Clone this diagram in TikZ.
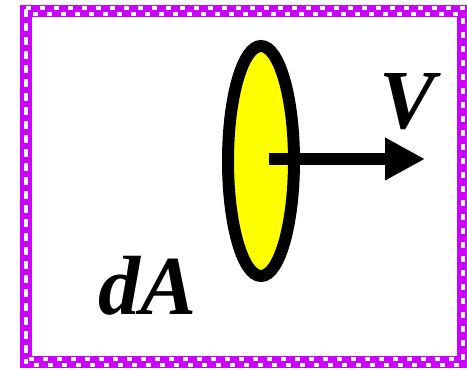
\documentclass[tikz,border=0pt]{standalone}
\usepackage{fontspec}
\setmainfont{Liberation Serif}
\usetikzlibrary{arrows.meta, shapes.geometric}
\definecolor{frmagenta}{RGB}{204,0,255}
\definecolor{diskyellow}{RGB}{255,255,0}

\begin{document}
\begin{tikzpicture}[x=1pt, y=-1pt,
  frame/.style={draw=frmagenta, line width=12pt},
  checks/.style={draw=white, line width=4pt, dash pattern=on 5pt off 9pt},
  disk/.style={ellipse, draw=black, fill=diskyellow, line width=12pt, minimum width=66pt, minimum height=230pt, inner sep=0pt},
  arr/.style={-{Triangle[length=40pt, width=40pt]}, line width=12pt},
  lbl/.style={font=\fontsize{84}{84}\selectfont\bfseries\itshape, inner sep=0pt}
]
\useasboundingbox (0,0) rectangle (467,371);
% frame
\draw[frame] (26,11) rectangle (463,362);
\draw[checks] (26,8) -- (463,8) -- (463,365) -- (26,365) -- cycle;
\draw[checks, dash phase=7pt] (26,14) -- (463,14) -- (463,359) -- (26,359) -- cycle;
% disk and velocity
\node[disk] (disk) at (261,161) {};
\coordinate (tip) at (425,159);
\draw[arr] (269,159) -- (tip);
\node[lbl, anchor=base] (vel) at (408,129) {V};
\node[lbl, anchor=base] (area) at (148,315) {dA};
\end{tikzpicture}
\end{document}
